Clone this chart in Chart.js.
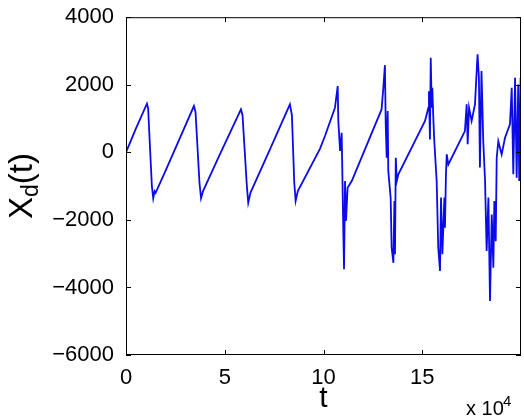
<!DOCTYPE html>
<html>
<head>
<meta charset="utf-8">
<script src="https://cdn.jsdelivr.net/npm/chart.js@4"></script>
<style>
  html,body{margin:0;padding:0;background:#fff}
  #grafo{width:524px;height:417px}
</style>
</head>
<body>
<div id="grafo"><canvas id="xd" width="524" height="417"></canvas></div>
<script>
// t em unidades de 10^4
const tempo = [0, 0.5, 1.06, 1.12, 1.31, 1.38, 1.45, 1.5, 2.0, 2.6, 3.44, 3.52, 3.72, 3.8, 3.9, 4.8,
  5.82, 5.9, 6.12, 6.19, 6.3, 7.3, 8.3, 8.4, 8.52, 8.59, 8.7, 9.82, 10.08, 10.58, 10.72, 10.75, 10.84,
  10.92, 10.95, 11.0, 11.04, 11.09, 11.14, 11.22, 11.43, 12.94, 13.03, 13.11, 13.15, 13.2, 13.25,
  13.28, 13.4, 13.45, 13.54, 13.59, 13.62, 13.66, 13.71, 13.79, 15.14, 15.31, 15.34, 15.39, 15.43,
  15.48, 15.51, 15.56, 15.61, 15.73, 15.81, 15.9, 15.95, 16.02, 16.12, 16.15, 16.2, 16.24, 16.32,
  17.16, 17.25, 17.3, 17.37, 17.5, 17.67, 17.8, 17.87, 17.92, 18.0, 18.09, 18.18, 18.26, 18.35,
  18.43, 18.52, 18.6, 18.65, 18.72, 18.77, 18.85, 19.02, 19.19, 19.44, 19.53, 19.61, 19.7, 19.78,
  19.86, 19.91, 19.98]
const xd = [0, 700, 1440, 1300, -1000, -1360, -1150, -1200, -550, 250, 1370, 1200, -900, -1360, -1150, 0,
  1270, 1100, -1000, -1490, -1200, 100, 1420, 1100, -900, -1440, -1150, 100, 490, 1320, 1960, 930, 40,
  580, -450, -2230, -3460, -850, -2030, -1050, -850, 1270, 1910, 2580, 830, -160, 1220,
  -550, -1340, -2820, -3270, -1440, -3020, -160, -850, -650, 930, 1320, 1810, 380, 2800,
  1320, 1910, 1020, 330, -850, -2820, -3510, -1340, -3020, -1340, -2230, -650, -60, -360,
  630, 1420, 240, 1320, 930, 1420, 2900, 2210, -450, 2410, 330, -850, -2920, -1340,
  -4400, -1840, -3420, -1440, -2630, -160, 330, -60, 430, 830, 1910, -650, 2210, -750,
  2010, -850, 2210]
const ticksX = [0, 5, 10, 15]
const ticksY = [-6000, -4000, -2000, 0, 2000, 4000]

const fonte = 'Liberation Sans, Arial, Helvetica, sans-serif'

// caixa com marcas para dentro, estilo matlab
const caixa = {
  id: 'caixa',
  afterDraw(chart){
    const ctx = chart.ctx
    const a = chart.chartArea
    const sx = chart.scales.x, sy = chart.scales.y
    ctx.save()
    ctx.strokeStyle = '#000'
    ctx.lineWidth = 1
    ctx.strokeRect(a.left+0.5, a.top+0.5, a.right-a.left-1, a.bottom-a.top-1)
    ctx.beginPath()
    for(let v of ticksX){
      let p = Math.round(sx.getPixelForValue(v))+0.5
      ctx.moveTo(p, a.bottom); ctx.lineTo(p, a.bottom-5)
      ctx.moveTo(p, a.top); ctx.lineTo(p, a.top+5)
    }
    for(let v of ticksY){
      let p = Math.round(sy.getPixelForValue(v))+0.5
      ctx.moveTo(a.left, p); ctx.lineTo(a.left+5, p)
      ctx.moveTo(a.right, p); ctx.lineTo(a.right-5, p)
    }
    ctx.stroke()

    // rotulo y com subscrito
    ctx.fillStyle = '#000'
    ctx.translate(32, 219)
    ctx.rotate(-Math.PI/2)
    ctx.textBaseline = 'alphabetic'
    ctx.textAlign = 'left'
    ctx.font = '33px ' + fonte
    ctx.fillText('X', 0, 0)
    let w = ctx.measureText('X').width
    ctx.font = '23px ' + fonte
    ctx.fillText('d', w, 6)
    w += ctx.measureText('d').width
    ctx.font = '33px ' + fonte
    ctx.fillText('(t)', w, 0)
    ctx.setTransform(1,0,0,1,0,0)

    // x 10^4
    ctx.font = '20px ' + fonte
    ctx.fillText('x 10', 466, 415)
    ctx.font = '15px ' + fonte
    ctx.fillText('4', 503, 406)
    ctx.restore()
  }
}

new Chart(document.getElementById('xd'), {
  type: 'line',
  data: {
    datasets: [{
      data: tempo.map((t, i) => ({x: t, y: xd[i]})),
      borderColor: 'rgb(10,10,235)',
      borderWidth: 1.8,
      pointRadius: 0,
      tension: 0
    }]
  },
  options: {
    responsive: false,
    animation: false,
    layout: {padding: {top: 16, right: 3, left: 0, bottom: 0}},
    plugins: {legend: {display: false}, tooltip: {enabled: false}},
    scales: {
      x: {
        type: 'linear', min: 0, max: 20,
        afterBuildTicks: s => { s.ticks = ticksX.map(v => ({value: v})) },
        afterFit: s => { s.height = 62 },
        grid: {display: false},
        border: {display: false},
        ticks: {color: '#000', font: {family: fonte, size: 22}, padding: 2, maxRotation: 0},
        title: {display: true, text: 't', color: '#000', font: {family: fonte, size: 30}, padding: 0}
      },
      y: {
        min: -6000, max: 4000,
        afterBuildTicks: s => { s.ticks = ticksY.map(v => ({value: v})) },
        afterFit: s => { s.width = 126 },
        grid: {display: false},
        border: {display: false},
        ticks: {color: '#000', font: {family: fonte, size: 22}, padding: 4,
          callback: v => String(v).replace('-', '\u2212')}
      }
    }
  },
  plugins: [caixa]
})
</script>
</body>
</html>
